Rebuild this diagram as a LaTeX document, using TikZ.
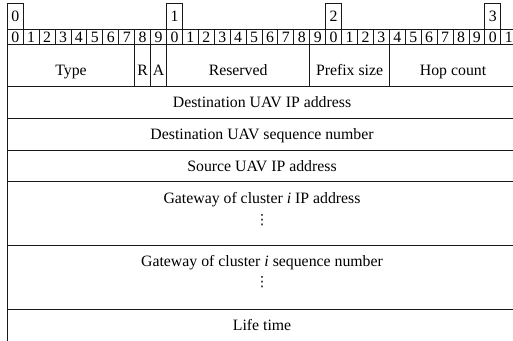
\documentclass[tikz,border=0pt]{standalone}
\usepackage{fontspec}
\setmainfont{Liberation Serif}
\newfontfamily\dotsfont{DejaVu Sans}
\newcommand{\cx}[1]{7.3+15.92*(#1)}
\begin{document}
\begin{tikzpicture}[x=1pt,y=-1pt,
  grid/.style={line width=0.9pt, draw=black!90},
  lbl/.style={font=\fontsize{15.8}{18}\selectfont, inner sep=0pt, anchor=base},
  vdot/.style={font=\dotsfont\fontsize{14}{16}\selectfont, inner sep=0pt, anchor=center}]
\useasboundingbox (0,0) rectangle (513,340);
\clip (0,0) rectangle (513,340);
% header boxes
\foreach \k in {0,1,2,3} {
  \draw[grid] ({\cx{10*\k}},29) rectangle ({\cx{10*\k+1}},3.5);
  \node[lbl] (h\k) at ({\cx{10*\k+0.5}},21) {\k};
}
% horizontal rules
\foreach \yy in {29,44.3,86.3,118.1,150,181.8,245.5,309.2,341} {
  \draw[grid] ({\cx{0}},\yy) -- ({\cx{32}},\yy);
}
% left border
\draw[grid] ({\cx{0}},3.5) -- ({\cx{0}},345);
% bit row
\foreach \i in {0,...,32} {
  \draw[grid] ({\cx{\i}},29) -- ({\cx{\i}},44.3);
}
\foreach \i in {0,...,31} {
  \pgfmathtruncatemacro\d{mod(\i,10)}
  \node[lbl] (b\i) at ({\cx{\i+0.5}},42) {\d};
}
% field row separators
\foreach \i in {8,9,10,19,24} {
  \draw[grid] ({\cx{\i}},44.3) -- ({\cx{\i}},86.3);
}
\node[lbl] (type) at ({\cx{4}},75) {Type};
\node[lbl] (r) at ({\cx{8.5}},75) {R};
\node[lbl] (a) at ({\cx{9.5}},75) {A};
\node[lbl] (res) at ({\cx{14.5}},75) {Reserved};
\node[lbl] (pfx) at ({\cx{21.5}},75) {Prefix size};
\node[lbl] (hop) at ({\cx{28}},75) {Hop count};
% full-width rows
\node[lbl] (dip) at ({\cx{16}},107) {Destination UAV IP address};
\node[lbl] (dseq) at ({\cx{16}},139) {Destination UAV sequence number};
\node[lbl] (sip) at ({\cx{16}},171) {Source UAV IP address};
\node[lbl] (gip) at ({\cx{16}},203) {Gateway of cluster \textit{i} IP address};
\node[vdot] (gipd) at ({\cx{16}},220) {⋮};
\node[lbl] (gseq) at ({\cx{16}},266) {Gateway of cluster \textit{i} sequence number};
\node[vdot] (gseqd) at ({\cx{16}},281.7) {⋮};
\node[lbl] (life) at ({\cx{16}},330) {Life time};
\end{tikzpicture}
\end{document}
